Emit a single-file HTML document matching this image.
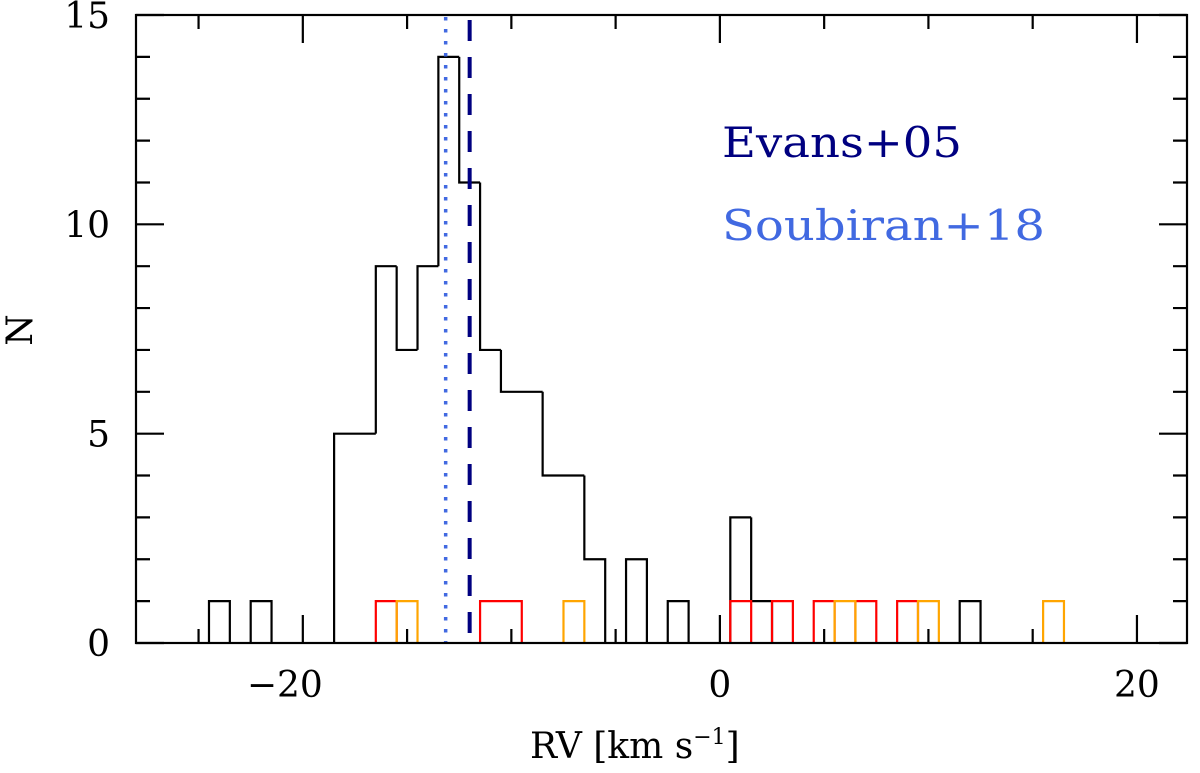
<!DOCTYPE html>
<html><head><meta charset="utf-8"><style>
html,body{margin:0;padding:0;background:#fff;}
svg text{font-family:"DejaVu Serif","Liberation Serif",serif;}
</style></head><body>
<svg id="chart" width="1200" height="768" viewBox="0 0 1200 768" xmlns="http://www.w3.org/2000/svg"></svg>
<script>
const blackBins = [-24,-22,-18,-17,-16,-15,-14,-13,-12,-11,-10,-9,-8,-7,-6,-4,-2,1,2,12];
const blackCounts = [1,1,5,5,9,7,9,14,11,7,6,6,4,4,2,2,1,3,1,1];
const redBins = [-16,-11,-10,1,3,5,7,9];
const redCounts = [1,1,1,1,1,1,1,1];
const orangeBins = [-15,-7,6,10,16];
const orangeCounts = [1,1,1,1,1];
const xTickLabels = [-20,0,20];
const yTickLabels = [0,5,10,15];
const evansRV = -12.0;
const soubiranRV = -13.15;

const X0=136,X1=1187,Y0=643,Y1=15,XMIN=-28,XMAX=22.4,YMAX=15;
const sx=v=>X0+(v-XMIN)/(XMAX-XMIN)*(X1-X0);
const sy=v=>Y0-v/YMAX*(Y0-Y1);
const svg=document.getElementById('chart');
const NS='http://www.w3.org/2000/svg';
function mk(t,a){const e=document.createElementNS(NS,t);for(const k in a)e.setAttribute(k,a[k]);svg.appendChild(e);return e;}

function hist(bins,counts,color,name){
  const m={};bins.forEach((b,i)=>m[b]=counts[i]);
  const keys=Object.keys(m).map(Number).sort((a,b)=>a-b);
  let d='';
  keys.forEach(b=>{
    const l=sx(b-0.5),r=sx(b+0.5),t=sy(m[b]);
    const prev=m[b-1]||0;
    d+=`M${l},${sy(prev)}L${l},${t}L${r},${t}`;
    if(!m[b+1]) d+=`L${r},${sy(0)}`;
  });
  const p=mk('path',{d:d,fill:'none',stroke:color,'stroke-width':2.2});
  
  
}
hist(blackBins,blackCounts,'#000','histogram-all');
hist(redBins,redCounts,'#ff0000','histogram-red');
hist(orangeBins,orangeCounts,'#ffa500','histogram-orange');

const l1=mk('line',{x1:sx(soubiranRV),x2:sx(soubiranRV),y1:Y1+2,y2:Y0,stroke:'#4169e1','stroke-width':3.5,'stroke-dasharray':'3.5 8.5'});


const l2=mk('line',{x1:sx(evansRV),x2:sx(evansRV),y1:Y1+5,y2:Y0,stroke:'#000080','stroke-width':4,'stroke-dasharray':'21 16'});



const fr=mk('rect',{x:X0,y:Y1,width:X1-X0,height:Y0-Y1,fill:'none',stroke:'#000','stroke-width':2.2});



let td='';
for(let v=-25;v<=20;v+=5){const x=sx(v),L=(v%20===0)?28:14;td+=`M${x},${Y0}v${-L}M${x},${Y1}v${L}`;}
for(let v=0;v<=15;v++){const y=sy(v),L=(v%5===0)?28:14;td+=`M${X0},${y}h${L}M${X1},${y}h${-L}`;}
const tk=mk('path',{d:td,stroke:'#000','stroke-width':2.2,fill:'none'});



xTickLabels.forEach(v=>{
  const t=mk('text',{x:sx(v)-(v<0?18:0),y:697,'font-size':36,'text-anchor':'middle'});
  t.textContent=v<0?'\u2212'+Math.abs(v):String(v);
  
  
});
yTickLabels.forEach(v=>{
  const t=mk('text',{x:110,y:sy(v)+13,'font-size':36,'text-anchor':'end'});
  t.textContent=String(v);
  
  
});
const xt=mk('text',{x:530,y:758,'font-size':36});
xt.innerHTML='RV [km s<tspan font-size="22" dy="-14">\u22121</tspan><tspan dy="14">]</tspan>';


const yt=mk('text',{x:0,y:0,'font-size':36,'text-anchor':'middle',transform:'translate(32,330) rotate(-90)'});
yt.textContent='N';


const e1=mk('text',{x:722,y:157,'font-size':42,fill:'#000080',textLength:240,lengthAdjust:'spacingAndGlyphs'});
e1.textContent='Evans+05';


const e2=mk('text',{x:722,y:240,'font-size':42,fill:'#4169e1',textLength:323,lengthAdjust:'spacingAndGlyphs'});
e2.textContent='Soubiran+18';


</script>
</body></html>
